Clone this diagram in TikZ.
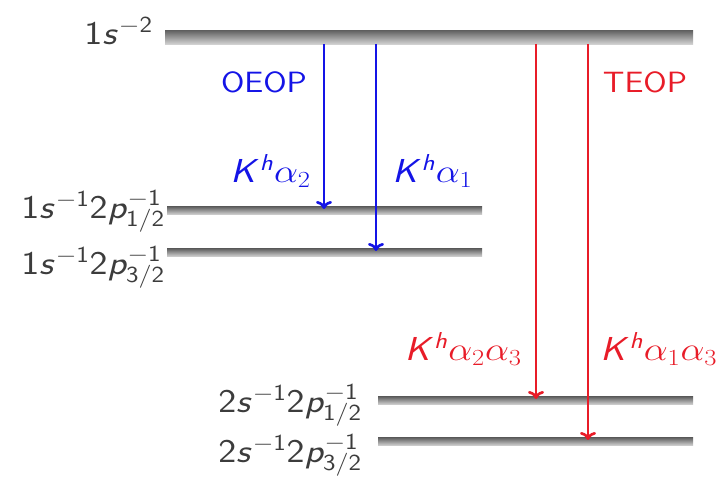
\documentclass[tikz,border=0pt]{standalone}
\usepackage{graphicx}
\usetikzlibrary{arrows.meta}
\DeclareMathAlphabet{\mathsfit}{OT1}{cmss}{m}{sl}
\definecolor{oblue}{RGB}{20,20,230}
\definecolor{tred}{RGB}{232,28,40}
\definecolor{lgray}{RGB}{60,60,60}
\newcommand{\hs}[1]{\scalebox{1.15}[1]{#1}}
\tikzset{
  lvl/.style={draw=none, inner sep=0pt, top color=black!60, bottom color=black!15, rectangle},
  toplvl/.style={lvl, minimum height=14pt*0.75},
  sublvl/.style={lvl, minimum height=8pt*0.75},
  lab/.style={inner sep=0pt, text=lgray, font=\fontsize{25}{30}\selectfont},
  olab/.style={inner sep=0pt, text=oblue, font=\fontsize{25}{30}\selectfont},
  tlab/.style={inner sep=0pt, text=tred, font=\fontsize{25}{30}\selectfont},
  pname/.style={font=\fontsize{22}{26}\selectfont},
  oarr/.style={draw=oblue, line width=2pt, -{To[length=6pt,width=12pt]}},
  tarr/.style={draw=tred, line width=2pt, -{To[length=6pt,width=12pt]}},
}
\begin{document}
\begin{tikzpicture}[x=0.75pt,y=-0.75pt]
\useasboundingbox (0,0) rectangle (719,477);
% levels
\node[toplvl, minimum width=528*0.75pt] (g) at (429,38) {};
\node[sublvl, minimum width=315*0.75pt] (a1) at (324.5,211) {};
\node[sublvl, minimum width=315*0.75pt] (a2) at (324.5,253) {};
\node[sublvl, minimum width=315*0.75pt] (b1) at (535.5,401) {};
\node[sublvl, minimum width=315*0.75pt] (b2) at (535.5,442) {};
% level labels
\node[lab, anchor=base east] (lg) at (153,45) {\hs{$\mathsf{1}\mathsfit{s}^{-\mathsf{2}}$}};
\node[lab, anchor=base east] (la1) at (165,219) {\hs{$\mathsf{1}\mathsfit{s}^{-\mathsf{1}}\mathsf{2}\mathsfit{p}^{-\mathsf{1}}_{\mathsf{1/2}}$}};
\node[lab, anchor=base east] (la2) at (165,275) {\hs{$\mathsf{1}\mathsfit{s}^{-\mathsf{1}}\mathsf{2}\mathsfit{p}^{-\mathsf{1}}_{\mathsf{3/2}}$}};
\node[lab, anchor=base east] (lb1) at (362,413) {\hs{$\mathsf{2}\mathsfit{s}^{-\mathsf{1}}\mathsf{2}\mathsfit{p}^{-\mathsf{1}}_{\mathsf{1/2}}$}};
\node[lab, anchor=base east] (lb2) at (362,463) {\hs{$\mathsf{2}\mathsfit{s}^{-\mathsf{1}}\mathsf{2}\mathsfit{p}^{-\mathsf{1}}_{\mathsf{3/2}}$}};
% arrow end points
\coordinate (s1) at (324,44);
\coordinate (e1) at (324,209);
\coordinate (s2) at (376,44);
\coordinate (e2) at (376,251);
\coordinate (s3) at (536,44);
\coordinate (e3) at (536,399);
\coordinate (s4) at (588,44);
\coordinate (e4) at (588,440);
\draw[oarr] (s1) -- (e1);
\draw[oarr] (s2) -- (e2);
\draw[tarr] (s3) -- (e3);
\draw[tarr] (s4) -- (e4);
% process labels
\node[olab, pname] (oeop) at (264,82) {\hs{\sffamily OEOP}};
\node[tlab, pname] (teop) at (645,82) {\hs{\sffamily TEOP}};
\node[olab, anchor=base east] (ka2) at (311,183) {\hs{$\mathsfit{K}^{\mathsfit{h}}\alpha_2$}};
\node[olab, anchor=base west] (ka1) at (392,183) {\hs{$\mathsfit{K}^{\mathsfit{h}}\alpha_1$}};
\node[tlab, anchor=base east] (ka23) at (522,361) {\hs{$\mathsfit{K}^{\mathsfit{h}}\alpha_2\alpha_3$}};
\node[tlab, anchor=base west] (ka13) at (600,361) {\hs{$\mathsfit{K}^{\mathsfit{h}}\alpha_1\alpha_3$}};
\end{tikzpicture}
\end{document}
